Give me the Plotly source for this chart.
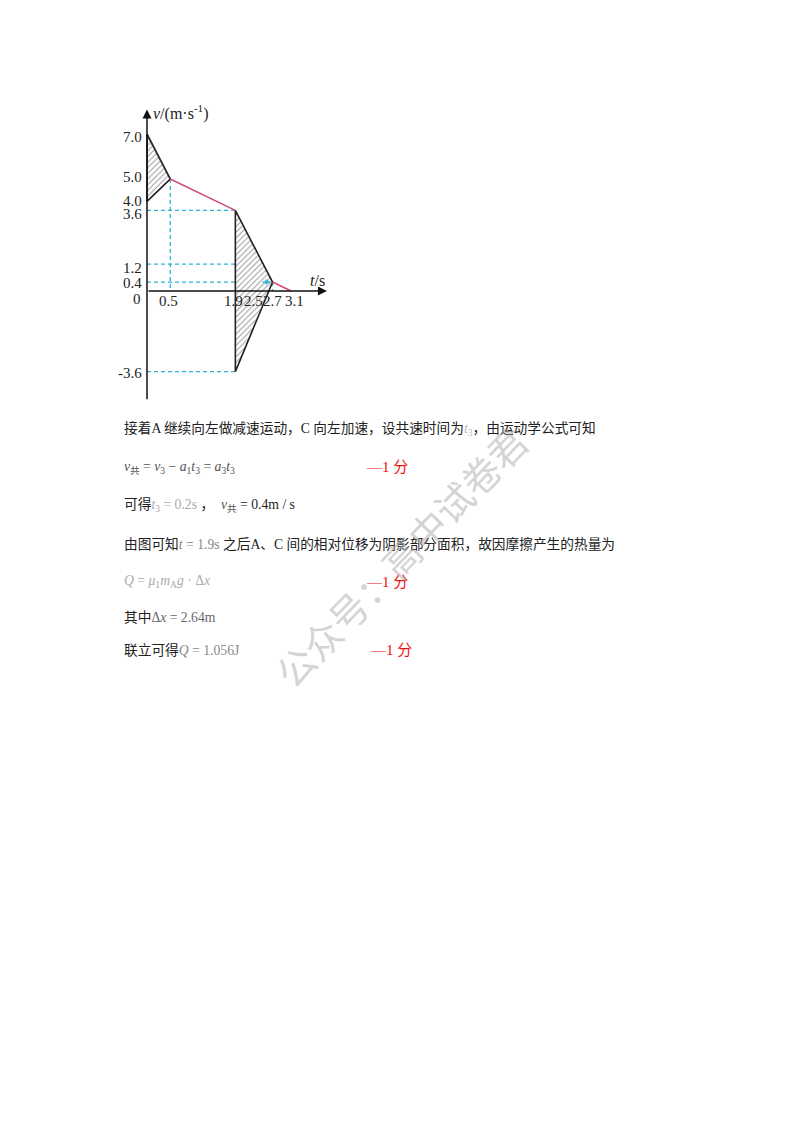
import plotly.graph_objects as go

# ---------------- data ----------------
pink1_t = [0.0, 0.5, 1.9]
pink1_v = [7.0, 5.0, 3.6]
pink2_t = [2.7, 3.1]
pink2_v = [0.4, 0.0]
tri1_t = [0.0, 0.5, 0.0, 0.0]
tri1_v = [7.0, 5.0, 4.0, 7.0]
tri2_t = [1.9, 2.7, 1.9, 1.9]
tri2_v = [3.6, 0.4, -3.6, 3.6]

# dashed guide segments: (t0, v0, t1, v1)
guides = [
    (0.0, 5.0, 0.5, 5.0),
    (0.5, 5.0, 0.5, 0.0),
    (0.0, 3.6, 1.9, 3.6),
    (0.0, 1.2, 2.5, 1.2),
    (2.5, 1.2, 2.5, 0.0),
    (0.0, 0.4, 2.7, 0.4),
    (2.7, 0.4, 2.7, 0.0),
    (0.0, -3.6, 1.9, -3.6),
]

ytick_vals = [7.0, 5.0, 4.0, 3.6, 1.2, 0.4, -3.6]
ytick_text = ["7.0", "5.0", "4.0", "3.6", "1.2", "0.4", "-3.6"]
ytick_shift = [-3, 2, 0, -4, -4, -1, -1]
xtick_vals = [0.5, 1.9, 2.5, 2.7, 3.1]
xtick_text = ["0.5", "1.9", "2.5", "2.7", "3.1"]
xtick_shift = [-2, -2, -10, 0, 3]

text_lines = [
    ("接着A 继续向左做减速运动，C 向左加速，设共速时间为<span style='color:#bbbbbb'><i>t</i><sub>3</sub></span>，由运动学公式可知", 429),
    ("<span style='color:#555555'><i>v</i><sub>共</sub> = <i>v</i><sub>3</sub> − <i>a</i><sub>1</sub><i>t</i><sub>3</sub> = <i>a</i><sub>3</sub><i>t</i><sub>3</sub></span>", 467),
    ("可得<span style='color:#aaaaaa'><i>t</i><sub>3</sub> = 0.2s</span> ，  <span style='color:#555555'><i>v</i><sub>共</sub></span> = 0.4m / s", 505),
    ("由图可知<span style='color:#888888'><i>t</i> = 1.9s</span> 之后A、C 间的相对位移为阴影部分面积，故因摩擦产生的热量为", 544),
    ("<span style='color:#aaaaaa'><i>Q</i> = <i>μ</i><sub>1</sub><i>m</i><sub>A</sub><i>g</i> · Δ<i>x</i></span>", 581),
    ("其中<span style='color:#666666'>Δ<i>x</i> = 2.64m</span>", 617),
    ("联立可得<span style='color:#888888'><i>Q</i> = 1.056J</span>", 650),
]
score_marks = [("—1 分", 364, 467), ("—1 分", 364, 582), ("—1 分", 368, 650)]

# ---------------- layout geometry ----------------
W, H = 800, 1132
OFF = 8  # page body margin added by the browser
X_RANGE = [-0.8, 4.0]
Y_RANGE = [-4.9, 8.1]
X0_PX, XS = 147.0 - OFF, 46.5   # pixel of t=0, px per unit
Y0_PX, YS = 291.0 - OFF, 22.4   # pixel of v=0, px per unit


def px(x):
    return (x - OFF) / W


def py(y):
    return 1 - (y - OFF) / H


x_left = X0_PX + XS * X_RANGE[0]
x_right = X0_PX + XS * X_RANGE[1]
y_top = Y0_PX - YS * Y_RANGE[1]
y_bot = Y0_PX - YS * Y_RANGE[0]

PINK = "#d64c7c"
CYAN = "#2eb3d6"
SERIF = "Liberation Serif, Noto Sans CJK SC"

fig = go.Figure()

# guides
for (a, b, c, d) in guides:
    fig.add_trace(go.Scatter(x=[a, c], y=[b, d], mode="lines",
                             line=dict(color=CYAN, width=1.3, dash="4px,3px"),
                             hoverinfo="skip", showlegend=False))

# hatched regions
for tt, vv in [(tri1_t, tri1_v), (tri2_t, tri2_v)]:
    fig.add_trace(go.Scatter(x=tt, y=vv, mode="lines", fill="toself",
                             fillcolor="rgba(0,0,0,0)",
                             fillpattern=dict(shape="/", fgcolor="#333333", bgcolor="white",
                                              size=4, solidity=0.25),
                             line=dict(color="#222222", width=1.6),
                             hoverinfo="skip", showlegend=False))

# pink lines
fig.add_trace(go.Scatter(x=pink1_t[1:], y=pink1_v[1:], mode="lines",
                         line=dict(color=PINK, width=1.6), showlegend=False))
fig.add_trace(go.Scatter(x=pink1_t[:2], y=pink1_v[:2], mode="lines",
                         line=dict(color="#333333", width=1.6), showlegend=False))
fig.add_trace(go.Scatter(x=pink2_t, y=pink2_v, mode="lines",
                         line=dict(color=PINK, width=1.6), showlegend=False))

ann = []
# axes with arrows
ann.append(dict(x=0, y=Y_RANGE[1], ax=0, ay=Y_RANGE[0], xref="x", yref="y",
                axref="x", ayref="y", showarrow=True, arrowhead=2, arrowsize=1.2,
                arrowwidth=1.5, arrowcolor="#111111", text=""))
ann.append(dict(x=3.87, y=0, ax=0, ay=0, xref="x", yref="y",
                axref="x", ayref="y", showarrow=True, arrowhead=2, arrowsize=1.2,
                arrowwidth=1.5, arrowcolor="#111111", text=""))
# small arrow on 0.4 guide
ann.append(dict(x=2.66, y=0.4, ax=2.45, ay=0.4, xref="x", yref="y",
                axref="x", ayref="y", showarrow=True, arrowhead=2, arrowsize=0.9,
                arrowwidth=1.2, arrowcolor=CYAN, text=""))

for v, txt, sh in zip(ytick_vals, ytick_text, ytick_shift):
    ann.append(dict(x=0, y=v, xref="x", yref="y", text=txt, showarrow=False,
                    xanchor="right", yanchor="middle", xshift=-3, yshift=sh,
                    font=dict(family=SERIF, size=15, color="#222222")))
ann.append(dict(x=0, y=0, xref="x", yref="y", text="0", showarrow=False,
                xanchor="right", yanchor="middle", xshift=-4, yshift=-8,
                font=dict(family=SERIF, size=15, color="#222222")))
for t, txt, sh in zip(xtick_vals, xtick_text, xtick_shift):
    ann.append(dict(x=t, y=0, xref="x", yref="y", text=txt, showarrow=False,
                    xanchor="center", yanchor="middle", xshift=sh, yshift=-10,
                    font=dict(family=SERIF, size=15, color="#222222")))

# axis titles
ann.append(dict(x=px(151), y=py(113), xref="paper", yref="paper",
                text="<i>v</i>/(m·s<sup>-1</sup>)", showarrow=False,
                xanchor="left", yanchor="middle",
                font=dict(family=SERIF, size=16, color="#222222")))
ann.append(dict(x=px(308), y=py(281), xref="paper", yref="paper",
                text="<i>t</i>/s", showarrow=False, xanchor="left", yanchor="middle",
                font=dict(family=SERIF, size=16, color="#222222")))

# body text
for txt, yp in text_lines:
    ann.append(dict(x=px(122), y=py(yp), xref="paper", yref="paper", text=txt,
                    showarrow=False, xanchor="left", yanchor="middle",
                    font=dict(family=SERIF, size=13.7, color="#222222")))
for txt, xp, yp in score_marks:
    ann.append(dict(x=px(xp), y=py(yp), xref="paper", yref="paper", text=txt,
                    showarrow=False, xanchor="left", yanchor="middle",
                    font=dict(family=SERIF, size=15, color="#ee1111")))

# watermark
ann.append(dict(x=px(400), y=py(556), xref="paper", yref="paper",
                text="公众号：高中试卷君", showarrow=False, textangle=-46,
                font=dict(family="Noto Sans CJK SC", size=38, color="rgba(170,170,170,0.5)")))

fig.update_layout(
    width=W, height=H, margin=dict(l=0, r=0, t=0, b=0),
    paper_bgcolor="white", plot_bgcolor="rgba(0,0,0,0)",
    xaxis=dict(range=X_RANGE, domain=[x_left / W, x_right / W], visible=False, fixedrange=True),
    yaxis=dict(range=Y_RANGE, domain=[1 - y_bot / H, 1 - y_top / H], visible=False, fixedrange=True),
    annotations=ann, showlegend=False,
)

fig.write_html("out.html")
